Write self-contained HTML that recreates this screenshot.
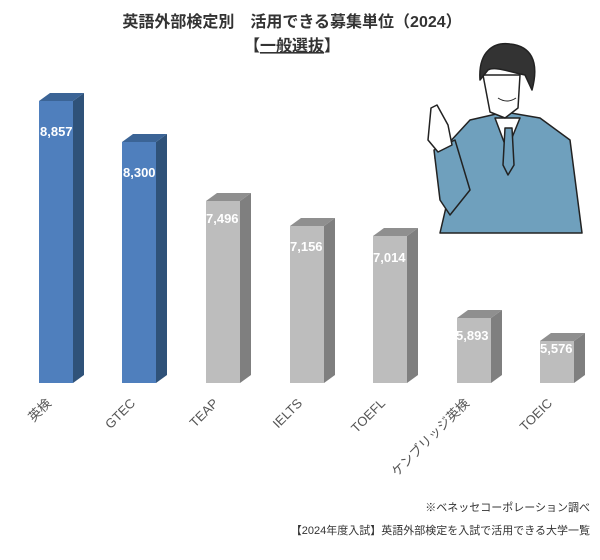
<!DOCTYPE html>
<html><head><meta charset="utf-8"><style>
body{margin:0;background:#fff;}
svg{display:block;font-family:"Liberation Sans","Noto Sans CJK JP",sans-serif;}
</style></head><body>
<svg width="600" height="560" viewBox="0 0 600 560">
<text x="292" y="27" text-anchor="middle" font-size="16" font-weight="bold" fill="#333">英語外部検定別　活用できる募集単位（2024）</text>
<text x="292" y="51" text-anchor="middle" font-size="16" font-weight="bold" fill="#333">【<tspan text-decoration="underline">一般選抜</tspan>】</text>

<!-- person -->
<g stroke="#222" stroke-width="1.5" stroke-linejoin="round">
<path d="M435 158 L470 120 L505 112 L540 118 L570 140 L582 233 L440 233 L450 190 Z" fill="#6fa0bd"/>
<path d="M434 150 L455 140 L470 190 L450 215 L440 200 Z" fill="#6fa0bd"/>
<path d="M495 118 L507 150 L520 118 Z" fill="#fff"/>
<path d="M505 128 L512 128 L514 165 L508 175 L503 165 Z" fill="#6fa0bd"/>
<path d="M483 75 L520 75 L518 108 L505 118 L490 112 Z" fill="#fff"/>
<path d="M480 80 C478 50 495 42 510 44 C530 46 540 60 532 90 L525 75 C510 72 495 66 488 70 Z" fill="#333"/>
<path d="M431 108 L437 105 L448 125 L452 145 L438 152 L428 140 Z" fill="#fff"/>
</g>
<g stroke="#222" stroke-width="1" fill="none"><path d="M498 98 Q507 104 516 98"/></g>

<!-- bars: front, side, top -->
<g>
<rect x="39" y="101" width="34" height="282" fill="#4f7fbd"/>
<polygon points="73,101 84,93 84,375 73,383" fill="#2f5279"/>
<polygon points="39,101 50,93 84,93 73,101" fill="#3b6496"/>

<rect x="122" y="142" width="34" height="241" fill="#4f7fbd"/>
<polygon points="156,142 167,134 167,375 156,383" fill="#2f5279"/>
<polygon points="122,142 133,134 167,134 156,142" fill="#3b6496"/>

<rect x="206" y="201" width="34" height="182" fill="#bdbdbd"/>
<polygon points="240,201 251,193 251,375 240,383" fill="#7f7f7f"/>
<polygon points="206,201 217,193 251,193 240,201" fill="#8f8f8f"/>

<rect x="290" y="226" width="34" height="157" fill="#bdbdbd"/>
<polygon points="324,226 335,218 335,375 324,383" fill="#7f7f7f"/>
<polygon points="290,226 301,218 335,218 324,226" fill="#8f8f8f"/>

<rect x="373" y="236" width="34" height="147" fill="#bdbdbd"/>
<polygon points="407,236 418,228 418,375 407,383" fill="#7f7f7f"/>
<polygon points="373,236 384,228 418,228 407,236" fill="#8f8f8f"/>

<rect x="457" y="318" width="34" height="65" fill="#bdbdbd"/>
<polygon points="491,318 502,310 502,375 491,383" fill="#7f7f7f"/>
<polygon points="457,318 468,310 502,310 491,318" fill="#8f8f8f"/>

<rect x="540" y="341" width="34" height="42" fill="#bdbdbd"/>
<polygon points="574,341 585,333 585,375 574,383" fill="#7f7f7f"/>
<polygon points="540,341 551,333 585,333 574,341" fill="#8f8f8f"/>
</g>
<g font-size="13" font-weight="bold" fill="#fff">
<text x="40" y="136">8,857</text><text x="123" y="177">8,300</text>
<text x="206" y="223">7,496</text><text x="290" y="251">7,156</text>
<text x="373" y="262">7,014</text><text x="456" y="340">5,893</text>
<text x="540" y="353">5,576</text>
</g>
<g font-size="13" fill="#555" text-anchor="end">
<text transform="translate(52,404) rotate(-45)">英検</text>
<text transform="translate(136,404) rotate(-45)">GTEC</text>
<text transform="translate(219,404) rotate(-45)">TEAP</text>
<text transform="translate(303,404) rotate(-45)">IELTS</text>
<text transform="translate(386,404) rotate(-45)">TOEFL</text>
<text transform="translate(470,404) rotate(-45)">ケンブリッジ英検</text>
<text transform="translate(553,404) rotate(-45)">TOEIC</text>
</g>
<g font-size="11" fill="#333" text-anchor="end">
<text x="590" y="511">※ベネッセコーポレーション調べ</text>
<text x="590" y="534">【2024年度入試】英語外部検定を入試で活用できる大学一覧</text>
</g>
</svg>
</body></html>
